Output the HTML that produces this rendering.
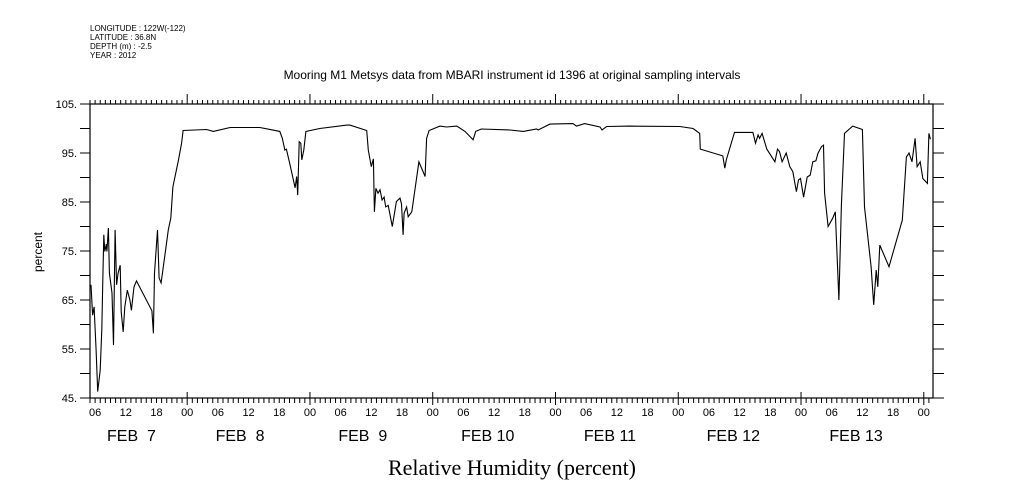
<!DOCTYPE html>
<html><head><meta charset="utf-8"><style>
html,body{margin:0;padding:0;background:#fff;}
svg{display:block;font-family:"Liberation Sans",sans-serif;}
text{white-space:pre;}
</style></head><body>
<svg id="chart" width="1009" height="504" viewBox="0 0 1009 504" xmlns="http://www.w3.org/2000/svg" xml:space="preserve">
<g font-size="8" fill="#000">
<text x="90" y="31">LONGITUDE : 122W(-122)</text>
<text x="90" y="40">LATITUDE : 36.8N</text>
<text x="90" y="49">DEPTH (m) : -2.5</text>
<text x="90" y="58">YEAR : 2012</text>
</g>
<text x="512" y="79" font-size="12" text-anchor="middle">Mooring M1 Metsys data from MBARI instrument id 1396 at original sampling intervals</text>
<text x="0" y="0" font-size="12" text-anchor="middle" transform="translate(42,252) rotate(-90)">percent</text>
<text x="512" y="475" font-family="Liberation Serif, serif" font-size="22" text-anchor="middle">Relative Humidity (percent)</text>
<rect x="90" y="104" width="843" height="294" fill="none" stroke="#000" stroke-width="1.2"/>
<g id="axes"></g>
<path id="series" fill="none" stroke="#000" stroke-width="1.1"/>
</svg>
<script>
// times: hours since FEB 7 00:00
const times = [5.2,5.5,5.8,6.2,6.5,7.0,7.3,7.5,7.7,7.9,8.2,8.3,8.6,8.8,9.3,9.6,9.9,10.2,10.5,10.9,11.1,11.5,11.8,12.3,12.8,13.1,13.6,14.1,17.1,17.4,17.6,18.2,18.5,18.9,19.7,20.3,20.8,21.2,22.3,22.9,23.2,27.8,29.1,32.4,38.2,42.1,42.6,43.1,43.4,44.1,45.1,45.4,45.6,45.9,46.2,46.4,46.8,47.2,49.9,55.2,55.8,59.1,59.4,60.0,60.4,60.6,60.9,61.3,61.7,62.1,62.5,62.8,63.3,64.1,64.9,65.6,65.9,66.2,66.4,66.9,67.2,67.9,69.3,70.5,70.8,71.3,73.4,74.7,76.7,78.3,79.9,80.4,81.5,87.1,89.7,92.3,92.6,94.9,99.4,100.1,101.7,104.7,105.1,106.0,110.5,120.3,122.9,124.2,124.3,128.7,129.1,129.4,131.0,134.6,135.1,135.6,135.9,136.4,137.3,138.9,139.4,139.8,140.3,141.1,141.8,142.4,143.1,143.5,143.9,144.5,145.2,145.8,146.3,146.9,147.3,148.0,148.4,148.6,149.3,150.2,150.7,151.4,151.9,152.5,154.1,156.0,156.4,157.7,158.2,158.7,159.0,159.4,161.2,163.8,164.6,165.1,165.7,166.3,166.7,167.3,167.8,168.7,169.0,169.3];
const values = [68.1,61.9,63.6,54.8,46.3,50.7,58.9,69,78.3,74.9,76.4,74.9,79.7,70.5,66.4,55.8,79.3,68.1,70.5,72.1,62.6,58.5,63.6,67,65,62.9,67.7,68.9,62.8,58.2,70.5,79.3,69.5,68.5,74.6,79.3,81.7,88.1,93.6,97,99.6,99.8,99.4,100.2,100.2,99.4,98,95.6,95.8,92.6,87.9,90.2,86.4,97.3,97,93.6,95.6,99.4,100,100.7,100.7,99.6,95.6,92.2,93.8,83,87.8,86.8,87.5,85.4,86,84,84.3,80,85.1,85.8,84.6,78.3,82.7,84,82,83,93.2,90.2,98,99.6,100.5,100.3,100.5,99.4,97.7,99.4,99.9,99.7,99.4,99.9,99.7,100.9,101,100.5,101,100.3,99.7,100.4,100.5,100.4,100,99,95.8,94.4,91.9,93.6,99.2,99.2,97,98.7,98,99,95.8,93.2,95.8,95.3,93.2,95,92.2,91.2,87.1,89.5,89.8,86,90.1,90.5,93.2,93.4,94.9,96.3,96.6,86.8,80,81.7,83,65,84.4,99,100.5,99.8,84,71.8,64,71.1,67.7,76.2,71.8,81.3,94.2,95,93.2,98,92.2,93.2,89.8,88.8,99,97.8];
const yTickValues = [45,50,55,60,65,70,75,80,85,90,95,100,105];
const yLabelValues = [45,55,65,75,85,95,105];
const dayLabels = ["FEB  7","FEB  8","FEB  9","FEB 10","FEB 11","FEB 12","FEB 13"];
const hourLabels = ["00","06","12","18"];

const X0=90,X1=933,Y0=104,Y1=398,T0=5,T1=169.8,V0=45,V1=105;
function xs(t){return X0+(t-T0)*(X1-X0)/(T1-T0);}
function ys(v){return Y1-(v-V0)*(Y1-Y0)/(V1-V0);}
const NS="http://www.w3.org/2000/svg";
const g=document.getElementById('axes');
function line(x1,y1,x2,y2,name){const l=document.createElementNS(NS,'line');l.setAttribute('x1',x1);l.setAttribute('y1',y1);l.setAttribute('x2',x2);l.setAttribute('y2',y2);l.setAttribute('stroke','#000');l.setAttribute('stroke-width','1');


g.appendChild(l);}
function text(x,y,s,size,anchor,name){const t=document.createElementNS(NS,'text');t.setAttribute('x',x);t.setAttribute('y',y);t.setAttribute('font-size',size);t.setAttribute('text-anchor',anchor);t.textContent=s;


g.appendChild(t);}
yTickValues.forEach(v=>{const y=ys(v);line(80,y,X0,y,'y-tick-left');line(X1,y,944,y,'y-tick-right');});
yLabelValues.forEach(v=>{text(77,ys(v)+4,v+'.',11,'end','y-tick-label');});
for(let t=Math.ceil(T0);t<=T1;t+=1){const x=xs(t);
 if(t%24===0){line(x,Y0-10,x,Y0,'x-major-tick-top');line(x,Y1-6,x,Y1+7,'x-major-tick-bottom');}
 else{line(x,Y0-4,x,Y0,'x-minor-tick-top');line(x,Y1,x,Y1+5,'x-minor-tick-bottom');}}
for(let t=6;t<=T1;t+=6){text(xs(t),416,hourLabels[(t/6)%4],11,'middle','x-hour-label');}
dayLabels.forEach((d,i)=>{const noon=xs(12+24*i);const x=i===0?107:noon-33;text(x,441,d,16,'start','x-day-label');});
let dstr='';times.forEach((t,i)=>{dstr+=(i?'L':'M')+xs(t).toFixed(1)+','+ys(values[i]).toFixed(1);});
document.getElementById('series').setAttribute('d',dstr);
</script>
</body></html>
